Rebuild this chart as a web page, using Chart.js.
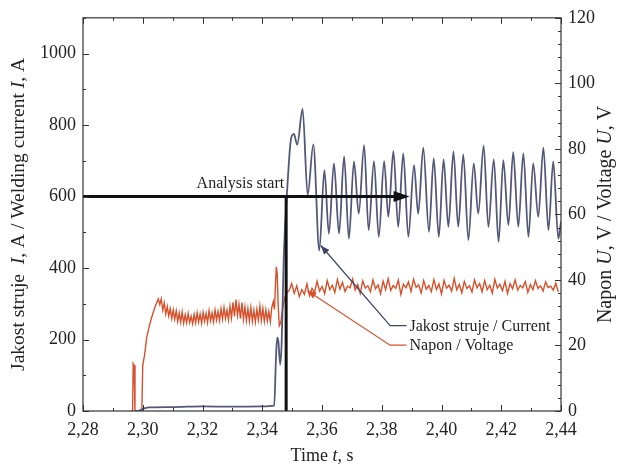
<!DOCTYPE html>
<html><head><meta charset="utf-8">
<script src="https://cdn.jsdelivr.net/npm/chart.js@4.4.1/dist/chart.umd.min.js"></script>
<style>html,body{margin:0;padding:0;background:#fff}#wrap{width:620px;height:465px}</style>
</head><body><div id="wrap"><canvas id="c" width="620" height="465"></canvas></div>
<script>
// ---------- DATA ----------
const xTickLabels = ['2,28','2,30','2,32','2,34','2,36','2,38','2,40','2,42','2,44'];
const leftTickLabels = ['0','200','400','600','800','1000'];
const rightTickLabels = ['0','20','40','60','80','100','120'];

// Welding current I [A] (left axis)
const currentT = [2.2975,2.2985,2.3000,2.3020,2.3100,2.3200,2.3300,2.3400,2.3440,2.3446,2.3450,2.3454,2.3460,2.3465,2.3472,2.3485,2.3496,2.3506,2.3517,2.3535,
  2.3552,2.3571,2.3591,2.3608,2.3623,2.3640,2.3657,2.3674,2.3690,2.3707,2.3723,2.3741,2.3756,2.3774,2.3790,2.3808,2.3822,2.3839,2.3855,2.3872,
  2.3889,2.3908,2.3922,2.3939,2.3958,2.3974,2.3991,2.4007,2.4023,2.4040,2.4056,2.4073,2.4090,2.4108,2.4123,2.4141,2.4157,2.4175,2.4191,2.4207,
  2.4224,2.4240,2.4257,2.4274,2.4291,2.4307,2.4324,2.4341,2.4358,2.4374,2.4391,2.4400];
const currentA = [0,0,6,10,11,13,12,13,15,150,205,195,130,190,430,640,760,775,745,845,
  604,746,449,674,496,693,496,712,482,698,552,744,506,699,487,699,543,727,515,721,
  487,688,552,737,501,707,487,704,515,726,515,718,478,693,552,742,515,704,473,702,
  520,724,515,721,487,693,543,737,506,698,482,530];

// Voltage U [V] (right axis)
const voltageStartT = [2.2960,2.2966,2.2968,2.2971,2.2974,2.2997,2.3000,2.3006,2.3013,2.3022,2.3030,2.3040,2.3052];
const voltageStartV = [0,0,14.5,14.0,0,0,14,17,22.4,26,28.6,31.5,34.2];
const plateau1Start = 2.3057, plateau1Step = 0.0005;
const voltagePlateau1 = [32.5,34.2,30.8,33.0,29.6,31.9,29.0,31.2,28.2,30.9,
  28.0,30.6,27.3,29.9,27.1,30.2,26.8,29.4,26.9,29.8,
  27.0,28.9,26.6,29.5,26.9,30.0,27.2,29.6,26.8,30.1,
  27.4,29.8,27.0,30.6,27.5,29.9,27.2,30.8,27.8,30.4,
  27.6,31.2,28.0,31.6,28.2,30.8,27.8,32.0,28.4,33.2,
  28.9,34.0,29.2,32.6,28.2,33.1,28.0,31.8,27.6,31.2,
  27.5,31.6,27.4,30.8,27.2,31.0,27.8,32.0,27.6,31.3,
  27.4,30.9,27.5,30.4,27.2,31.6,33.4];
const voltageJumpT = [2.3441,2.3444,2.3447,2.3450,2.3453,2.3457,2.3462,2.3468,2.3475,2.3482];
const voltageJumpV = [31.0,38,44,42,33,26,27,31,34.5,36];
const plateau2Start = 2.3490, plateau2Step = 0.00085;
const voltagePlateau2 = [36.8,38.9,35.9,38.2,34.9,37.0,35.6,38.8,35.2,37.4,
  36.1,39.6,36.6,38.0,35.8,39.8,37.0,38.4,36.2,40.1,
  37.2,39.3,36.5,38.1,37.6,40.3,36.9,38.6,35.9,39.7,
  37.5,38.2,36.4,40.0,37.3,38.5,35.8,39.6,37.0,40.4,
  36.8,38.3,37.4,39.9,35.6,38.7,37.6,39.4,36.5,40.2,
  37.7,38.5,36.0,39.8,37.2,38.3,36.4,40.1,37.1,38.8,
  35.7,39.9,37.5,38.4,36.6,40.5,37.0,38.6,36.1,39.5,
  37.4,38.2,36.3,40.0,37.6,38.9,36.4,39.8,37.0,38.4,
  36.0,40.2,37.5,38.7,36.7,39.6,35.9,38.9,37.3,40.0,
  36.9,38.3,37.6,39.5,36.2,38.6,37.0,39.8,37.4,38.2,
  36.6,39.4,37.7,38.1,36.9,39.0,36.4];

// Annotations (data coordinates)
const analysisStartT = 2.348, analysisLevelA = 600, analysisArrowEndT = 2.3893;
const currentCallout = {tipT:2.3596, tipA:463, bendT:2.3828, bendA:239, endT:2.3883, text:'Jakost struje / Current'};
const voltageCallout = {tipT:2.3551, tipV:36.7, bendT:2.3828, bendV:20.1, endT:2.3883, text:'Napon / Voltage'};

// ---------- BUILD ----------
const currentPoints = currentT.map((t,i)=>({x:t,y:currentA[i]}));
const voltagePoints = [];
voltageStartT.forEach((t,i)=>voltagePoints.push({x:t,y:voltageStartV[i]}));
voltagePlateau1.forEach((v,i)=>voltagePoints.push({x:plateau1Start+i*plateau1Step,y:v}));
voltageJumpT.forEach((t,i)=>voltagePoints.push({x:t,y:voltageJumpV[i]}));
voltagePlateau2.forEach((v,i)=>voltagePoints.push({x:plateau2Start+i*plateau2Step,y:v}));

const FONT = 'Liberation Serif, Times New Roman, serif';
const TXT = '#222';
const CUR = '#535879';
const VOL = '#d6512b';

function drawRich(ctx, parts, size){
  let w = 0;
  parts.forEach(p=>{ctx.font=(p[1]?'italic ':'')+size+'px '+FONT; w+=ctx.measureText(p[0]).width;});
  let x = -w/2;
  parts.forEach(p=>{ctx.font=(p[1]?'italic ':'')+size+'px '+FONT; ctx.fillText(p[0],x,0); x+=ctx.measureText(p[0]).width;});
}

const deco = {
  id:'deco',
  afterDatasetsDraw(chart){
    const {ctx, chartArea:a, scales:{x, yI, yU}} = chart;
    ctx.save();
    const x0 = x.getPixelForValue(analysisStartT), y6 = yI.getPixelForValue(analysisLevelA);
    const xe = x.getPixelForValue(analysisArrowEndT);
    ctx.strokeStyle='#111'; ctx.fillStyle='#111'; ctx.lineWidth=3;
    ctx.beginPath(); ctx.moveTo(x0, y6-1.5); ctx.lineTo(x0, yI.getPixelForValue(0)); ctx.stroke();
    ctx.beginPath(); ctx.moveTo(a.left, y6); ctx.lineTo(xe-10, y6); ctx.stroke();
    ctx.beginPath(); ctx.moveTo(xe, y6); ctx.lineTo(xe-16, y6-5.5); ctx.lineTo(xe-16, y6+5.5); ctx.closePath(); ctx.fill();
    ctx.font='16px '+FONT; ctx.textAlign='right'; ctx.textBaseline='bottom'; ctx.fillStyle=TXT;
    ctx.fillText('Analysis start', x0-2, y6-5);

    function callout(tx,ty,bx,by,ex,color,text){
      ctx.strokeStyle=color; ctx.fillStyle=color; ctx.lineWidth=1.2;
      ctx.beginPath(); ctx.moveTo(ex,by); ctx.lineTo(bx,by); ctx.lineTo(tx,ty); ctx.stroke();
      const ang = Math.atan2(ty-by, tx-bx);
      ctx.beginPath(); ctx.moveTo(tx,ty);
      ctx.lineTo(tx-9*Math.cos(ang)+3.5*Math.sin(ang), ty-9*Math.sin(ang)-3.5*Math.cos(ang));
      ctx.lineTo(tx-9*Math.cos(ang)-3.5*Math.sin(ang), ty-9*Math.sin(ang)+3.5*Math.cos(ang));
      ctx.closePath(); ctx.fill();
      ctx.fillStyle=TXT; ctx.font='16px '+FONT; ctx.textAlign='left'; ctx.textBaseline='middle';
      ctx.fillText(text, ex+3, by+1);
    }
    const c = currentCallout;
    callout(x.getPixelForValue(c.tipT), yI.getPixelForValue(c.tipA), x.getPixelForValue(c.bendT), yI.getPixelForValue(c.bendA), x.getPixelForValue(c.endT), '#3e4363', c.text);
    const v = voltageCallout;
    callout(x.getPixelForValue(v.tipT), yU.getPixelForValue(v.tipV), x.getPixelForValue(v.bendT), yU.getPixelForValue(v.bendV), x.getPixelForValue(v.endT), VOL, v.text);
    ctx.restore();
  },
  afterDraw(chart){
    const {ctx, chartArea:a, scales:{x, yI, yU}} = chart;
    ctx.save();
    ctx.strokeStyle='#333'; ctx.lineWidth=1.2;
    ctx.strokeRect(a.left, a.top, a.right-a.left, a.bottom-a.top);
    ctx.lineWidth=1;
    ctx.beginPath();
    for(let i=0;i<=16;i++){
      const px = Math.round(x.getPixelForValue(2.28+i*0.01))+0.5;
      const L = i%2===0?6:3;
      ctx.moveTo(px,a.bottom); ctx.lineTo(px,a.bottom-L);
      ctx.moveTo(px,a.top); ctx.lineTo(px,a.top+L);
    }
    for(let i=0;i<=11;i++){
      const py = Math.round(yI.getPixelForValue(i*100))+0.5;
      const L = i%2===0?6:3;
      ctx.moveTo(a.left,py); ctx.lineTo(a.left+L,py);
    }
    for(let i=0;i<=30;i++){
      const py = Math.round(yU.getPixelForValue(i*4))+0.5;
      const L = i%5===0?6:3;
      ctx.moveTo(a.right,py); ctx.lineTo(a.right-L,py);
    }
    ctx.stroke();
    ctx.fillStyle=TXT; ctx.textAlign='left'; ctx.textBaseline='middle';
    const cy = (a.top+a.bottom)/2;
    ctx.save(); ctx.translate(19, cy); ctx.rotate(-Math.PI/2);
    drawRich(ctx, [['Jakost struje  ',0],['I',1],[', A / Welding current ',0],['I',1],[', A',0]], 19.5);
    ctx.restore();
    ctx.save(); ctx.translate(606, cy); ctx.rotate(-Math.PI/2);
    drawRich(ctx, [['Napon ',0],['U',1],[', V / Voltage ',0],['U',1],[', V',0]], 20);
    ctx.restore();
    ctx.save(); ctx.translate((a.left+a.right)/2, 456);
    drawRich(ctx, [['Time ',0],['t',1],[', s',0]], 18);
    ctx.restore();
    ctx.restore();
  }
};

const tickFont = {family:FONT, size:18};
new Chart(document.getElementById('c').getContext('2d'), {
  type:'line',
  data:{datasets:[
    {label:'Jakost struje / Current', data:currentPoints, yAxisID:'yI', borderColor:CUR, borderWidth:1.8, pointRadius:0, cubicInterpolationMode:'monotone', fill:false},
    {label:'Napon / Voltage', data:voltagePoints, yAxisID:'yU', borderColor:VOL, borderWidth:1.4, pointRadius:0, tension:0, fill:false}
  ]},
  options:{
    responsive:false, animation:false,
    layout:{padding:{top:17,left:0,right:0,bottom:0}},
    plugins:{legend:{display:false}, tooltip:{enabled:false}, title:{display:false}},
    scales:{
      x:{type:'linear', position:'bottom', min:2.28, max:2.44,
         grid:{display:false, drawTicks:false}, border:{display:false},
         ticks:{stepSize:0.02, padding:8, font:tickFont, color:TXT, maxRotation:0, autoSkip:false, includeBounds:false,
           callback:(v)=>{const i=Math.round((v-2.28)/0.02); return xTickLabels[i] ?? '';}},
         afterFit(s){s.height=54;}},
      yI:{type:'linear', position:'left', min:0, max:1100,
         grid:{display:false, drawTicks:false}, border:{display:false},
         ticks:{stepSize:200, includeBounds:false, padding:7, font:tickFont, color:TXT,
           callback:(v)=>leftTickLabels[Math.round(v/200)] ?? ''},
         afterFit(s){s.width=83;}},
      yU:{type:'linear', position:'right', min:0, max:120,
         grid:{display:false, drawTicks:false}, border:{display:false},
         ticks:{stepSize:20, padding:7, font:tickFont, color:TXT,
           callback:(v)=>rightTickLabels[Math.round(v/20)] ?? ''},
         afterFit(s){s.width=59;}}
    }
  },
  plugins:[deco]
});
</script>
</body></html>
